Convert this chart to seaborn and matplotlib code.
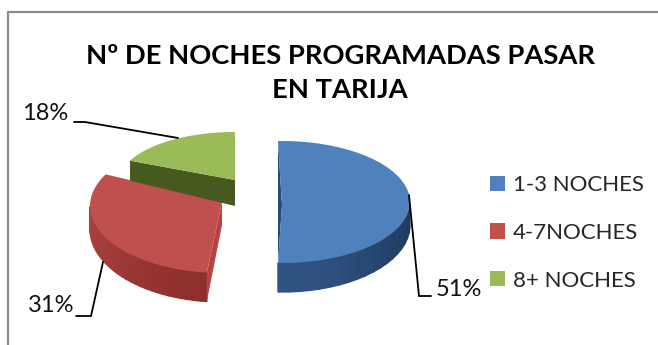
import numpy as np
import matplotlib
matplotlib.use("Agg")
import matplotlib.pyplot as plt
from matplotlib.patches import Patch
import seaborn as sns

title = "Nº DE NOCHES PROGRAMADAS PASAR\nEN TARIJA"
categories = ["1-3 NOCHES", "4-7NOCHES", "8+ NOCHES"]
shares = [51, 31, 18]
share_labels = ["51%", "31%", "18%"]

sns.set_theme(style="white")
plt.rcParams["font.family"] = ["Lato", "DejaVu Sans"]

top_colors = sns.color_palette(["#4f81bd", "#c0504d", "#9bbb59"])
side_dark = ["#1f3a5e", "#8e2f2d", "#4a5e26"]
side_light = ["#2f5383", "#a8403d", "#4a5e26"]
wall_colors = ["#274a75", "#b8423f", "#46591f"]

# Per-slice drawing geometry, in pixels of the figure
arc_center = [(282, 202), (222, 206), (235, 182)]
apex = [(282, 205), (222, 202), (235, 180)]
radii = [(128, 61), (132, 67), (116, 50)]
rotation = [-1.8, 3.0, 0.0]
apex_depth = [0, 23, 26]
rim_depth = (23, 29)

leaders = [
    [(409, 195), (419, 296), (431, 296)],
    [(103, 262), (91, 316), (76, 316)],
    [(178, 138), (85, 122), (74, 122)],
]
label_pos = [(436, 289), (28, 306), (22, 114)]

fig = plt.figure(figsize=(6.58, 3.45), dpi=100)
ax = fig.add_axes([0, 0, 1, 1])
ax.set_xlim(0, 658)
ax.set_ylim(345, 0)
ax.axis("off")

edges = np.concatenate([[0], np.cumsum(shares)]) / sum(shares) * 360


def rim(i, t):
    r = np.radians(t)
    return (arc_center[i][0] + radii[i][0] * np.sin(r),
            arc_center[i][1] - radii[i][1] * np.cos(r))


def depth(t):
    c = np.clip(-np.cos(np.radians(t)), 0, 1)
    return rim_depth[0] + (rim_depth[1] - rim_depth[0]) * c


for i in [2, 1, 0]:
    t0, t1 = edges[i] + rotation[i], edges[i + 1] + rotation[i]
    ts = np.linspace(t0, t1, 40)
    xs, ys = rim(i, ts)
    ax_, ay_ = apex[i]

    # curved outer side, shaded strip by strip
    vis = ts[(ts >= 90) & (ts <= 270)]
    for a, b in zip(vis[:-1], vis[1:]):
        xa, ya = rim(i, a)
        xb, yb = rim(i, b)
        f = abs(np.cos(np.radians((a + b) / 2))) ** 2
        rgb0 = np.array(matplotlib.colors.to_rgb(side_dark[i]))
        rgb1 = np.array(matplotlib.colors.to_rgb(side_light[i]))
        c = rgb0 + (rgb1 - rgb0) * (1 - f if a > 180 else f)
        ax.fill([xa, xb, xb, xa], [ya, yb, yb + depth(b), ya + depth(a)],
                facecolor=c, edgecolor=c, lw=1.0, zorder=i + 1)

    # straight cut wall
    if i == 1:
        ax.fill([ax_, xs[0], xs[0], ax_],
                [ay_, ys[0], ys[0] + depth(t0), ay_ + apex_depth[i]],
                color=wall_colors[i], lw=0, zorder=i + 1.2)
    if i == 2:
        ax.fill([ax_, xs[0], xs[0], ax_],
                [ay_, ys[0], ys[0] + 20, ay_ + apex_depth[i]],
                color=wall_colors[i], lw=0, zorder=i + 1.2)
    if i == 0:
        ax.fill([xs[0], ax_, xs[-1]], [ys[0], ay_, ys[-1]],
                color=wall_colors[i], lw=0, zorder=i + 1.2)

    # top face
    ax.fill(np.r_[ax_, xs], np.r_[ay_, ys], color=top_colors[i], lw=0, zorder=i + 1.5)

# leader lines and value labels
for pts, txt, pos in zip(leaders, share_labels, label_pos):
    ax.plot(*zip(*pts), color="black", lw=1.3, zorder=6, solid_joinstyle="miter")
    ax.text(pos[0], pos[1], txt, fontsize=17, color="#111111", va="center", ha="left", zorder=7)

# chart frame: only the top and left edges show
ax.plot([8, 8, 658], [345, 12, 12], color="#8c8c8c", lw=1.6, zorder=0)

ax.text(340, 73, title, fontsize=19.7, fontweight="bold", color="black",
        ha="center", va="center", linespacing=1.5)

handles = [Patch(facecolor=c, edgecolor="none") for c in top_colors]
ax.legend(handles, categories, loc="upper left", bbox_to_anchor=(490 / 658, 1 - 175 / 345),
          frameon=False, fontsize=16, handlelength=0.68, handleheight=0.68,
          handletextpad=0.36, labelspacing=1.25, borderpad=0, borderaxespad=0)

fig.savefig("out.png", dpi=100)
